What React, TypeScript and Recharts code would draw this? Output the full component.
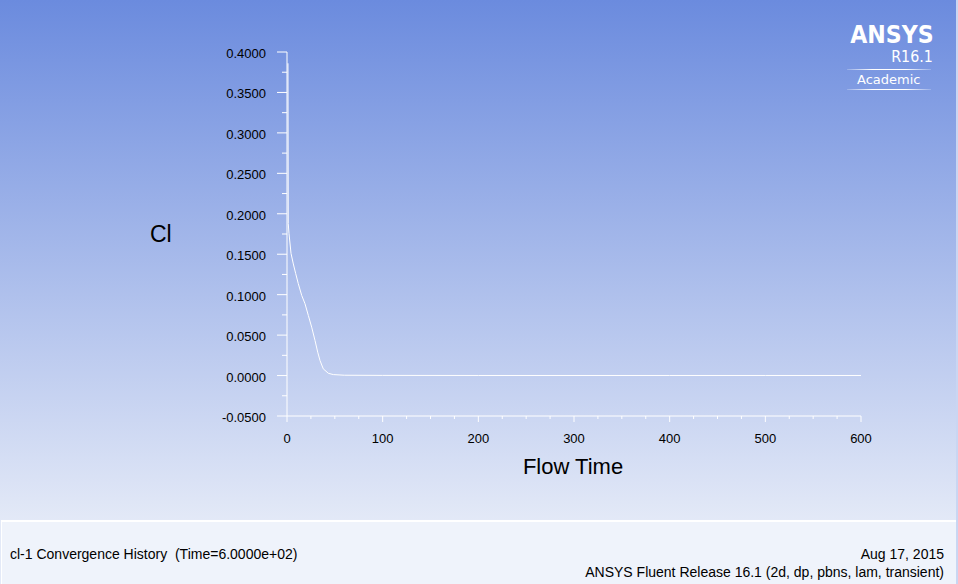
import { LineChart, Line, XAxis, YAxis } from "recharts";

// Flow time samples and lift coefficient
const flowTime = [1.0, 1.3, 2.1, 4.2, 6.6, 9.1, 11.8, 15.4, 18.8, 22.3, 25.8, 29.3, 32.1, 34.5, 37.9, 43.2, 48.4, 60, 100, 200, 300, 400, 500, 600];
const cl = [0.386, 0.188, 0.1755, 0.151, 0.138, 0.126, 0.1136, 0.099, 0.0888, 0.0743, 0.0598, 0.0433, 0.0289, 0.0186, 0.0083, 0.0028, 0.0012, 0.0004, 0.0002, 0.0001, 0.0001, 0.0001, 0.0001, 0.0001];

const xTicks = [0, 25, 50, 75, 100, 125, 150, 175, 200, 225, 250, 275, 300, 325, 350, 375, 400, 425, 450, 475, 500, 525, 550, 575, 600];
const yTicks = [-0.05, -0.025, 0, 0.025, 0.05, 0.075, 0.1, 0.125, 0.15, 0.175, 0.2, 0.225, 0.25, 0.275, 0.3, 0.325, 0.35, 0.375, 0.4];

const data = flowTime.map((t, i) => ({ t, cl: cl[i] }));

const FONT = "'Liberation Sans', Arial, sans-serif";

function XTick(props: any) {
  const { x, y, payload } = props;
  const v = payload.value as number;
  const major = v % 100 === 0;
  return (
    <g>
      <line x1={x} x2={x} y1={y} y2={y + (major ? 6 : 3)} stroke="#ffffff" />
      {major && (
        <text x={x} y={y + 22} textAnchor="middle" dominantBaseline="central" fontSize={13} fontFamily={FONT} fill="#000">
          {v}
        </text>
      )}
    </g>
  );
}

function YTick(props: any) {
  const { x, y, payload } = props;
  const v = payload.value as number;
  const r = v / 0.05;
  const major = Math.abs(r - Math.round(r)) < 1e-6;
  return (
    <g>
      <line x1={x - (major ? 10 : 5)} x2={x} y1={y} y2={y} stroke="#ffffff" />
      {major && (
        <text x={x - 21} y={y + 1.5} textAnchor="end" dominantBaseline="central" fontSize={13} fontFamily={FONT} fill="#000">
          {v.toFixed(4)}
        </text>
      )}
    </g>
  );
}

export default function App() {
  return (
    <div
      style={{
        position: "absolute",
        left: 0,
        top: 0,
        width: 958,
        height: 584,
        overflow: "hidden",
        fontFamily: FONT,
        background: "linear-gradient(to bottom, #6b8bde 0px, #e3e9f7 520px)",
      }}
    >
      {/* logo */}
      <div style={{ position: "absolute", right: 24, top: 20, color: "#fff", fontFamily: "'DejaVu Sans', sans-serif", fontWeight: "bold", fontSize: 24, lineHeight: "30px", transform: "scaleX(0.92)", transformOrigin: "right" }}>
        ANSYS
      </div>
      <div style={{ position: "absolute", right: 25, top: 48, color: "#fff", fontFamily: "'DejaVu Sans', sans-serif", fontSize: 15, lineHeight: "18px", transform: "scaleX(0.95)", transformOrigin: "right" }}>
        R16.1
      </div>
      <div style={{ position: "absolute", left: 847, top: 69, width: 84, height: 1, background: "linear-gradient(to right, rgba(255,255,255,0.2), #fff 30%, #fff 70%, rgba(255,255,255,0.2))" }} />
      <div style={{ position: "absolute", left: 857, top: 71, color: "#fff", fontFamily: "'DejaVu Sans', sans-serif", fontSize: 13, lineHeight: "18px" }}>
        Academic
      </div>
      <div style={{ position: "absolute", left: 847, top: 89, width: 84, height: 1, background: "linear-gradient(to right, rgba(255,255,255,0.2), #fff 30%, #fff 70%, rgba(255,255,255,0.2))" }} />

      {/* axis titles */}
      <div style={{ position: "absolute", left: 150, top: 220, fontSize: 23, lineHeight: "28px", color: "#000" }}>Cl</div>
      <div style={{ position: "absolute", left: 473, top: 453, width: 200, textAlign: "center", fontSize: 22, lineHeight: "28px", color: "#000" }}>
        Flow Time
      </div>

      <LineChart
        width={958}
        height={584}
        data={data}
        margin={{ top: 52, right: 97, left: 227, bottom: 138 }}
        style={{ position: "absolute", left: 0, top: 0 }}
      >
        <XAxis
          type="number"
          dataKey="t"
          domain={[0, 600]}
          ticks={xTicks}
          interval={0}
          height={30}
          tickSize={0}
          tickMargin={0}
          tickLine={false}
          axisLine={{ stroke: "#ffffff" }}
          tick={<XTick />}
        />
        <YAxis
          type="number"
          domain={[-0.05, 0.4]}
          ticks={yTicks}
          interval={0}
          width={60}
          tickSize={0}
          tickMargin={0}
          tickLine={false}
          axisLine={{ stroke: "#ffffff" }}
          tick={<YTick />}
        />
        <Line type="linear" dataKey="cl" stroke="#ffffff" strokeWidth={1} dot={false} isAnimationActive={false} />
      </LineChart>

      {/* footer panel */}
      <div style={{ position: "absolute", left: 1, top: 520, width: 954, height: 64, background: "#eff3fb", borderTop: "2px solid #ffffff", borderLeft: "1px solid #ffffff" }} />
      <div style={{ position: "absolute", left: 956, top: 0, width: 2, height: 584, background: "#c9d6f2" }} />
      <div style={{ position: "absolute", left: 10, top: 546, fontSize: 14, lineHeight: "17px", color: "#000" }}>
        cl-1 Convergence History&nbsp;&nbsp;(Time=6.0000e+02)
      </div>
      <div style={{ position: "absolute", right: 14, top: 546, fontSize: 14, lineHeight: "17px", color: "#000", textAlign: "right" }}>
        Aug 17, 2015
      </div>
      <div style={{ position: "absolute", right: 14, top: 564, fontSize: 14, lineHeight: "17px", color: "#000", textAlign: "right" }}>
        ANSYS Fluent Release 16.1 (2d, dp, pbns, lam, transient)
      </div>
    </div>
  );
}
